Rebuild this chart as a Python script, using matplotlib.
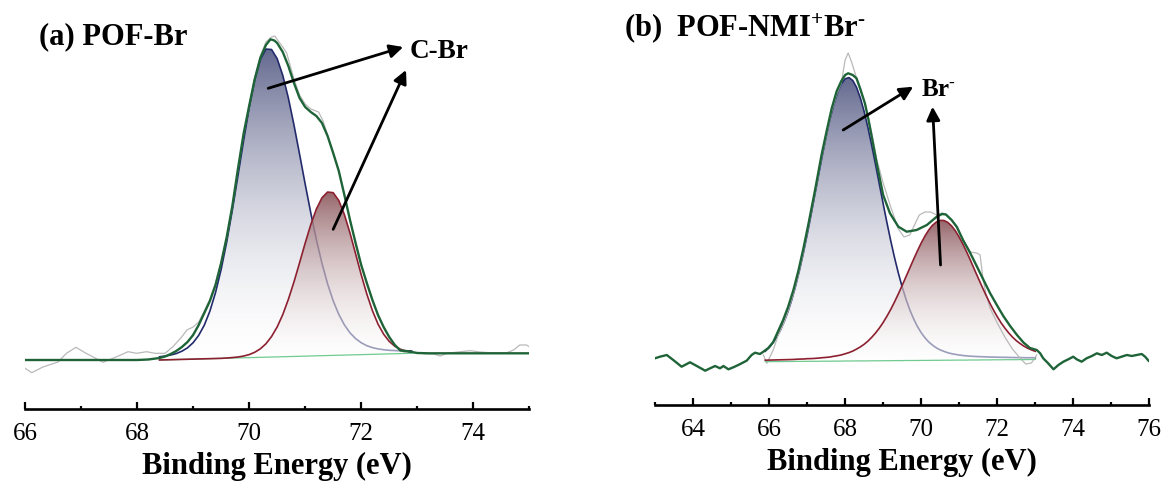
import numpy as np
import matplotlib
matplotlib.use("Agg")
import matplotlib.pyplot as plt
from matplotlib.ticker import MultipleLocator

plt.rcParams['font.family'] = ['Liberation Serif', 'DejaVu Serif']
plt.rcParams['mathtext.fontset'] = 'custom'
plt.rcParams['mathtext.rm'] = 'Liberation Serif:bold'
plt.rcParams['mathtext.it'] = 'Liberation Serif:bold:italic'
plt.rcParams['mathtext.bf'] = 'Liberation Serif:bold'

# ---------------- (a) POF-Br : intensity in arbitrary units ----------------
x_a = np.round(np.arange(68.4, 72.95, 0.1), 2)   # fit window sample positions
bg_a = [49.0, 49.15, 49.3, 49.45, 49.6, 49.74, 49.89, 50.04, 50.19, 50.34,
        50.49, 50.64, 50.79, 50.94, 51.08, 51.23, 51.38, 51.53, 51.68, 51.83,
        51.98, 52.13, 52.27, 52.42, 52.57, 52.72, 52.87, 53.02, 53.17, 53.32,
        53.47, 53.62, 53.76, 53.91, 54.06, 54.21, 54.36, 54.51, 54.66, 54.81,
        54.96, 55.11, 55.25, 55.40, 55.55, 55.70]
# component heights above background
peak1_a = [3.2, 3.8, 4.7, 6.0, 8.2, 11.4, 16.4, 23.6, 33.7, 47.6,
           65.9, 88.8, 116.3, 147.8, 182.0, 216.7, 249.5, 277.6, 297.9, 308.1,
           307.5, 298.2, 281.4, 258.6, 231.5, 202.1, 172.1, 143.1, 116.2, 92.2,
           71.7, 54.6, 40.9, 30.2, 22.1, 16.2, 11.9, 8.8, 6.7, 5.3,
           4.3, 3.6, 3.2, 2.8, 2.6, 2.3]
peak2_a = [0, 0, 0, 0, 0, 0, 0, 0, 0, 0,
           0, 0, 0.2, 0.5, 0.9, 1.7, 3.0, 5.2, 8.5, 13.4,
           20.5, 29.9, 42.1, 57.2, 74.5, 93.5, 113.0, 131.3, 146.8, 157.9,
           163.5, 162.7, 154.7, 140.5, 121.9, 101.0, 79.9, 60.5, 43.7, 30.1,
           19.9, 12.5, 7.5, 4.3, 2.4, 1.2]
env_x_a = [66.0, 68.0, 68.2, 68.4, 68.5, 68.6, 68.7, 68.8, 68.9, 69.0, 69.1, 69.2,
           69.3, 69.4, 69.5, 69.6, 69.7, 69.8, 69.9, 70.0, 70.1, 70.2, 70.3, 70.38,
           70.45, 70.5, 70.6, 70.7, 70.8, 70.9, 71.0, 71.1, 71.2, 71.3, 71.4, 71.5,
           71.6, 71.7, 71.8, 71.9, 72.0, 72.1, 72.2, 72.3, 72.4, 72.5, 72.6, 72.7,
           72.8, 72.9, 73.0, 73.2, 75.0]
env_a = [49, 49, 49.5, 51, 52.5, 55, 58, 62, 67, 74, 84, 96,
         108, 124, 146, 172, 203, 240, 275, 303, 330, 351, 364, 369.7,
         368.5, 366, 357, 343, 326, 311, 302, 297, 293, 286, 273, 256,
         238, 214, 189, 166, 144, 126, 109, 94, 82, 72, 64, 58.5,
         58, 57, 56, 55.7, 55.7]
raw_x_a = [66.00, 66.12, 66.32, 66.59, 66.74, 66.91, 67.07, 67.25, 67.39, 67.57,
           67.84, 67.99, 68.17, 68.32, 68.50, 68.64, 68.80, 68.89, 69.00, 69.10,
           69.20, 69.30, 69.40, 69.50, 69.60, 69.70, 69.80, 69.90, 70.00, 70.10,
           70.20, 70.30, 70.40, 70.46, 70.52, 70.60, 70.67, 70.80, 70.90, 71.00,
           71.10, 71.24, 71.32, 71.40, 71.50, 71.60, 71.70, 71.80, 71.90, 72.00,
           72.10, 72.20, 72.30, 72.40, 72.50, 72.60, 72.70, 72.80, 72.93, 73.10,
           73.29, 73.41, 73.53, 73.77, 73.95, 74.12, 74.30, 74.60, 74.72, 74.83,
           74.95, 75.00]
raw_a = [40.7, 36.3, 42.0, 47.0, 55.7, 61.7, 56.3, 51.0, 46.7, 50.7,
         57.3, 55.7, 57.3, 55.7, 55.7, 62.3, 72.3, 79.0, 82, 87,
         98, 110, 126, 147, 171, 202, 239, 274, 303, 331,
         353, 367, 372, 373, 368, 362, 356, 330, 314, 305,
         300, 297, 288, 274, 256, 238, 214, 189, 166, 144,
         126, 109, 94, 82, 72, 64, 58.5, 56, 56.3, 55.5,
         55.0, 53.0, 55.7, 57.3, 58.3, 57.0, 56.3, 56.3, 59.0, 64.0,
         64.0, 62.3]

# ---------------- (b) POF-NMI+Br- ----------------
x_b = np.round(np.arange(65.9, 73.05, 0.1), 2)
bg_b = [43.3, 43.3, 43.4, 43.4, 43.4, 43.5, 43.5, 43.5, 43.6, 43.6,
        43.6, 43.7, 43.7, 43.7, 43.7, 43.8, 43.8, 43.8, 43.9, 43.9,
        43.9, 44.0, 44.0, 44.0, 44.1, 44.1, 44.1, 44.1, 44.2, 44.2,
        44.2, 44.3, 44.3, 44.3, 44.4, 44.4, 44.4, 44.5, 44.5, 44.5,
        44.5, 44.6, 44.6, 44.6, 44.7, 44.7, 44.7, 44.8, 44.8, 44.8,
        44.9, 44.9, 44.9, 44.9, 45.0, 45.0, 45.0, 45.1, 45.1, 45.1,
        45.2, 45.2, 45.2, 45.3, 45.3, 45.3, 45.3, 45.4, 45.4, 45.4,
        45.5, 45.5]
peak1_b = [10.5, 14.1, 18.7, 24.5, 31.5, 40.1, 50.2, 62.1, 75.7, 91.1,
           108.0, 126.3, 145.7, 165.8, 185.8, 205.7, 224.6, 241.7, 256.5, 268.5,
           277.2, 282.2, 283.4, 280.5, 273.6, 263.0, 249.4, 233.3, 215.3, 196.2,
           176.6, 157.1, 138.0, 119.9, 102.9, 87.5, 73.7, 61.4, 50.8, 41.8,
           34.1, 27.8, 22.6, 18.4, 15.1, 12.4, 10.4, 8.8, 7.5, 6.5,
           5.7, 5.1, 4.6, 4.2, 3.8, 3.6, 3.4, 3.2, 3.0, 2.9,
           2.7, 2.6, 2.5, 2.4, 2.3, 2.2, 2.1, 2.0, 1.9, 1.8,
           1.8, 1.7]
peak2_b = [1.5, 1.6, 1.6, 1.7, 1.8, 1.8, 1.9, 2.0, 2.1, 2.3,
           2.4, 2.6, 2.7, 2.9, 3.2, 3.5, 3.8, 4.2, 4.8, 5.4,
           6.2, 7.2, 8.4, 9.9, 11.8, 14.0, 16.6, 19.8, 23.5, 27.8,
           32.7, 38.2, 44.5, 51.3, 58.7, 66.7, 75.1, 83.7, 92.4, 101.1,
           109.5, 117.3, 124.4, 130.4, 135.1, 138.3, 139.9, 139.7, 137.8, 134.3,
           129.3, 123.0, 115.8, 107.9, 99.4, 90.6, 82.0, 73.4, 65.1, 57.2,
           49.9, 43.2, 37.1, 31.7, 26.9, 22.7, 19.1, 16.1, 13.5, 11.4,
           9.6, 8.2]
env_x_b = [63.00, 63.13, 63.31, 63.48, 63.70, 63.92, 64.10, 64.32, 64.45, 64.58,
           64.71, 64.80, 64.93, 65.06, 65.19, 65.41, 65.54, 65.63, 65.76,
           65.85, 65.98, 66.11, 66.24, 66.37, 66.50, 66.64, 66.77, 66.90, 67.03,
           67.21, 67.38, 67.52, 67.65, 67.78, 67.90, 68.00, 68.08, 68.20, 68.30,
           68.40, 68.52, 68.61, 68.70, 68.83, 69.00, 69.18, 69.40, 69.62, 69.88,
           70.15, 70.41, 70.55, 70.65, 70.80, 70.94, 71.10, 71.29, 71.46, 71.64,
           71.81, 71.99, 72.16, 72.34, 72.52, 72.69, 72.86, 73.04,
           73.13, 73.21, 73.34, 73.48, 73.61, 73.74, 73.87, 74.00, 74.09, 74.22,
           74.35, 74.49, 74.62, 74.75, 74.88, 75.01, 75.14, 75.27, 75.41, 75.54,
           75.67, 75.80, 75.89, 75.98]
env_b = [46.7, 48.3, 50.0, 45.0, 38.3, 42.7, 39.0, 34.3, 36.7, 39.0,
         36.7, 39.0, 35.7, 37.7, 40.0, 44.3, 50.0, 52.3, 51.0,
         53.3, 57, 63, 74, 85, 98, 115, 134, 156, 180,
         215, 250, 275, 297, 314, 324, 330, 331.7, 330, 326.7,
         316, 301.7, 286, 268.3, 242, 210, 191.7, 178.3, 173.3, 175,
         180, 188.3, 191, 190.5, 185, 178, 165, 152, 139, 125,
         112, 100, 89, 79, 70, 62.5, 57, 55,
         51.7, 46.7, 41.7, 35.7, 40.0, 43.3, 45.7, 48.3, 45.7, 43.3,
         46.7, 49.0, 51.7, 50.0, 52.3, 49.0, 46.7, 48.3, 50.0, 49.0,
         50.0, 51.0, 48.3, 44.3]
raw_x_b = [65.85, 65.94, 66.11, 66.24, 66.37, 66.50, 66.64, 66.77, 66.90, 67.03,
           67.21, 67.38, 67.52, 67.65, 67.78, 67.90, 68.00, 68.08, 68.17, 68.30,
           68.40, 68.52, 68.61, 68.70, 68.83, 69.00, 69.20, 69.40, 69.55, 69.70,
           69.80, 69.95, 70.10, 70.25, 70.41, 70.55, 70.65, 70.80, 70.94, 71.10,
           71.29, 71.46, 71.55, 71.62, 71.70, 71.81, 72.00, 72.20, 72.40, 72.60,
           72.75, 72.90, 73.04]
raw_b = [50, 41.7, 55, 70, 80, 94, 111, 130, 152, 177,
         212, 247, 272, 294, 311, 322, 345, 352, 343, 327,
         315, 302, 288, 272, 246, 222, 198, 176, 168, 170,
         178, 190, 193, 193, 190, 192, 191, 185, 177, 166,
         153, 152, 150, 128, 112, 97, 82, 68, 56, 47,
         41, 42, 50]

BLUE_TOP = (0.39, 0.41, 0.56)
RED_TOP = (0.55, 0.35, 0.37)


def gradient_fill(ax, x, lower, upper, top_rgb, a_top, a_bot, power, z):
    coll = ax.fill_between(x, lower, upper, facecolor='none', edgecolor='none', zorder=z)
    n = 256
    t = np.linspace(0, 1, n) ** power
    rgba = np.ones((n, 1, 4))
    for i in range(3):
        rgba[:, 0, i] = 1 + (top_rgb[i] - 1) * t
    rgba[:, 0, 3] = a_bot + (a_top - a_bot) * t
    im = ax.imshow(rgba, extent=[min(x), max(x), min(lower), max(upper)],
                   origin='lower', aspect='auto', zorder=z, interpolation='bilinear')
    im.set_clip_path(coll.get_paths()[0], transform=ax.transData)


def draw_panel(ax, x, bg, p1, p2, env_x, env_y, raw_x, raw_y, xlim, ytop, xticks):
    bg = np.array(bg)
    p1_abs = bg + np.array(p1)
    p2_abs = bg + np.array(p2)

    gradient_fill(ax, x, bg, p1_abs, BLUE_TOP, 1.0, 0.9, 1.7, 2)
    ax.plot(x, p1_abs, color='#222a6c', lw=1.2, zorder=3)
    gradient_fill(ax, x, bg, p2_abs, RED_TOP, 0.92, 0.55, 1.4, 4)
    ax.plot(raw_x, raw_y, color='#b9b9b9', lw=0.9, zorder=4.2)
    ax.plot(x, bg, color='#6fcb8f', lw=0.9, zorder=4.5)
    ax.plot(x, p2_abs, color='#8c2030', lw=1.2, zorder=5)
    ax.plot(env_x, env_y, color='#1f6438', lw=1.7, zorder=6)

    for s in ['left', 'right', 'top']:
        ax.spines[s].set_visible(False)
    ax.spines['bottom'].set_linewidth(1.9)
    ax.set_yticks([])
    ax.set_xlim(*xlim)
    ax.set_ylim(0, ytop)
    ax.set_xticks(xticks)
    ax.xaxis.set_minor_locator(MultipleLocator(1))
    ax.tick_params(axis='x', which='major', direction='in', length=5, width=1.6,
                   labelsize=18, pad=10)
    ax.tick_params(axis='x', which='minor', direction='in', length=2.3, width=1.6)
    ax.set_xlabel('Binding Energy (eV)', fontsize=22, fontweight='bold', labelpad=5)
    ax.patch.set_visible(False)


fig = plt.figure(figsize=(11.66, 4.84), dpi=100)
ax_a = fig.add_axes([25 / 1166, 1 - 409 / 484, 504.3 / 1166, 409 / 484])
ax_b = fig.add_axes([655 / 1166, 1 - 405 / 484, 494.3 / 1166, 405 / 484])

draw_panel(ax_a, x_a, bg_a, peak1_a, peak2_a, env_x_a, env_a, raw_x_a, raw_a,
           (66, 75), 409, [66, 68, 70, 72, 74])
draw_panel(ax_b, x_b, bg_b, peak1_b, peak2_b, env_x_b, env_b, raw_x_b, raw_b,
           (63, 76), 405, [64, 66, 68, 70, 72, 74, 76])

arrow = dict(arrowstyle='-|>', color='black', lw=2.0, mutation_scale=20,
             shrinkA=0, shrinkB=0)
ax_a.annotate('', xy=(72.75, 362), xytext=(70.34, 320.7), arrowprops=arrow, zorder=10)
ax_a.annotate('', xy=(72.80, 339), xytext=(71.50, 179.7), arrowprops=arrow, zorder=10)
ax_a.text(72.87, 357, 'C-Br', fontsize=19.5, fontweight='bold', va='center', ha='left')

ax_b.annotate('', xy=(69.79, 318.3), xytext=(67.95, 275), arrowprops=arrow, zorder=10)
ax_b.annotate('', xy=(70.30, 298.3), xytext=(70.51, 140), arrowprops=arrow, zorder=10)
ax_b.text(70.0, 315, r'Br$^{\text{-}}$', fontsize=18, fontweight='bold', va='center', ha='left')

fig.text(39 / 1166, 1 - 37 / 484, '(a) POF-Br', fontsize=22, fontweight='bold',
         va='center', ha='left')
fig.text(624 / 1166, 1 - 28 / 484, r'(b)  POF-NMI$^{+}$Br$^{\text{-}}$', fontsize=22,
         fontweight='bold', va='center', ha='left')

fig.savefig('out.png', dpi=100)
